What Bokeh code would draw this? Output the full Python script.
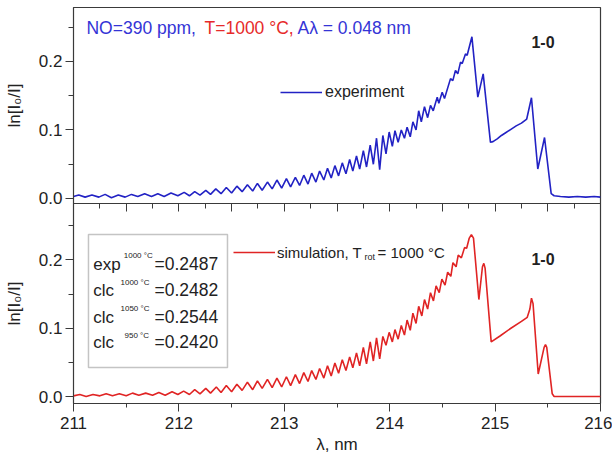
from bokeh.plotting import figure
from bokeh.models import (Range1d, FixedTicker, LinearAxis, NumeralTickFormatter,
                          Label, BoxAnnotation, Legend, LegendItem)
from bokeh.layouts import column
from bokeh.embed import file_html
from bokeh.resources import INLINE

# ---------------- data ----------------
exp_wl = [211.00, 211.05, 211.11, 211.175, 211.24, 211.30, 211.36, 211.425, 211.49, 211.55,
          211.61, 211.675, 211.74, 211.80, 211.86, 211.925, 211.99,
          212.05, 212.10, 212.15, 212.20, 212.255, 212.30, 212.35, 212.40, 212.45, 212.50,
          212.55, 212.60, 212.65, 212.70, 212.745, 212.79, 212.84, 212.885, 212.93, 212.975,
          213.02, 213.06, 213.105, 213.145, 213.185, 213.225, 213.26, 213.30, 213.335, 213.375,
          213.41, 213.445, 213.48, 213.515, 213.55, 213.585, 213.62, 213.65, 213.685, 213.715,
          213.75, 213.78, 213.815, 213.845, 213.875, 213.905, 213.935, 213.965, 213.995, 214.025,
          214.05, 214.08, 214.11, 214.14, 214.165, 214.195, 214.22, 214.25, 214.275, 214.30,
          214.33, 214.36, 214.387, 214.413, 214.451, 214.466, 214.498, 214.52, 214.577, 214.599,
          214.624, 214.646, 214.672, 214.688, 214.719, 214.735,
          214.78, 214.836, 214.887, 214.956, 214.98, 215.02, 215.06, 215.10, 215.15, 215.20,
          215.25, 215.30, 215.345, 215.405, 215.469, 215.532, 215.56, 215.62, 215.70, 215.78,
          215.86, 215.94, 216.00]
exp_val = [0.003, 0.005, 0.002, 0.005, 0.002, 0.006, 0.001, 0.005, 0.002, 0.006,
           0.003, 0.007, 0.003, 0.007, 0.003, 0.008, 0.004,
           0.009, 0.004, 0.010, 0.005, 0.012, 0.006, 0.014, 0.007, 0.016, 0.008,
           0.018, 0.010, 0.020, 0.011, 0.022, 0.012, 0.024, 0.014, 0.027, 0.015,
           0.029, 0.017, 0.031, 0.019, 0.034, 0.021, 0.037, 0.024, 0.040, 0.027,
           0.044, 0.030, 0.048, 0.033, 0.052, 0.036, 0.057, 0.040, 0.062, 0.043,
           0.070, 0.046, 0.078, 0.050, 0.088, 0.042, 0.092, 0.065, 0.097, 0.076,
           0.099, 0.082, 0.100, 0.088, 0.104, 0.090, 0.112, 0.100, 0.128, 0.112,
           0.134, 0.118, 0.136, 0.128, 0.148, 0.139, 0.155, 0.146, 0.175, 0.172,
           0.187, 0.182, 0.199, 0.197, 0.211, 0.209,
           0.236, 0.148, 0.182, 0.082, 0.083, 0.087, 0.092, 0.096, 0.101, 0.106,
           0.110, 0.116, 0.147, 0.043, 0.089, 0.007, 0.004, 0.003, 0.002, 0.003,
           0.002, 0.003, 0.002]

sim_wl = [211.00, 211.06, 211.12, 211.185, 211.25, 211.31, 211.37, 211.435, 211.50, 211.56,
          211.62, 211.685, 211.75, 211.81, 211.87, 211.935, 211.99,
          212.045, 212.10, 212.15, 212.20, 212.255, 212.30, 212.355, 212.40, 212.45, 212.50,
          212.55, 212.60, 212.65, 212.70, 212.745, 212.79, 212.84, 212.885, 212.93, 212.975,
          213.02, 213.06, 213.105, 213.145, 213.185, 213.225, 213.26, 213.30, 213.335, 213.375,
          213.41, 213.445, 213.48, 213.515, 213.55, 213.585, 213.62, 213.65, 213.685, 213.715,
          213.75, 213.78, 213.815, 213.845, 213.875, 213.905, 213.935, 213.965, 213.995, 214.025,
          214.05, 214.08, 214.11, 214.14, 214.165, 214.195, 214.22, 214.25, 214.275, 214.305,
          214.33, 214.36, 214.387, 214.415, 214.44, 214.47, 214.495, 214.525, 214.55, 214.58,
          214.60, 214.63, 214.65, 214.68, 214.71, 214.73,
          214.755, 214.775, 214.795, 214.846, 214.88, 214.893, 214.905, 214.963, 215.05, 215.15,
          215.25, 215.305, 215.33, 215.345, 215.36, 215.409, 215.465, 215.478, 215.49, 215.542,
          215.56, 215.70, 215.85, 216.00]
sim_val = [0.001, 0.003, 0.000, 0.003, 0.001, 0.004, 0.001, 0.004, 0.001, 0.005,
           0.002, 0.005, 0.002, 0.006, 0.002, 0.007, 0.003,
           0.008, 0.003, 0.010, 0.004, 0.012, 0.005, 0.014, 0.006, 0.016, 0.007,
           0.018, 0.009, 0.021, 0.010, 0.023, 0.012, 0.025, 0.013, 0.027, 0.014,
           0.029, 0.016, 0.032, 0.019, 0.035, 0.022, 0.038, 0.025, 0.041, 0.027,
           0.045, 0.030, 0.049, 0.034, 0.054, 0.038, 0.058, 0.042, 0.064, 0.045,
           0.072, 0.048, 0.080, 0.052, 0.086, 0.055, 0.088, 0.075, 0.094, 0.080,
           0.098, 0.084, 0.104, 0.090, 0.112, 0.097, 0.122, 0.107, 0.132, 0.118,
           0.142, 0.128, 0.152, 0.140, 0.162, 0.152, 0.172, 0.163, 0.182, 0.176,
           0.196, 0.190, 0.207, 0.203, 0.218, 0.217,
           0.232, 0.237, 0.232, 0.142, 0.190, 0.195, 0.188, 0.080, 0.089, 0.100,
           0.110, 0.116, 0.128, 0.144, 0.136, 0.033, 0.072, 0.076, 0.072, 0.004,
           0.000, 0.000, 0.000, 0.000]

x_major = [211, 212, 213, 214, 215, 216]
x_minor = [211.5, 212.5, 213.5, 214.5, 215.5]
top_x_major = [211, 211.5, 212, 212.5, 213, 213.5, 214, 214.5, 215, 215.5, 216]
top_x_minor = [211.25, 211.75, 212.25, 212.75, 213.25, 213.75, 214.25, 214.75, 215.25, 215.75]
y_major = [0.0, 0.1, 0.2]
y_minor = [0.05, 0.15, 0.25]

ratios = ["exp", "clc", "clc", "clc"]
ratio_temps = ["1000 °C", "1000 °C", "1050 °C", "950 °C"]
ratio_values = ["=0.2487", "=0.2482", "=0.2544", "=0.2420"]

# ---------------- style ----------------
FONT = "Liberation Sans"
BLUE = "#2222c4"
BLUE_T = "#3434d6"
RED = "#e02424"
RED_T = "#e62a2a"
DARK = "#222222"
FRAME = "#3a3a3a"

x_range = Range1d(211, 216)


def style_fig(p):
    p.xgrid.visible = False
    p.ygrid.visible = False
    p.outline_line_color = FRAME
    p.outline_line_width = 1.2
    p.background_fill_color = "white"
    ax = p.yaxis[0]
    ax.ticker = FixedTicker(ticks=y_major, minor_ticks=y_minor)
    ax.formatter = NumeralTickFormatter(format="0.0")
    ax.major_tick_out = 8
    ax.major_tick_in = 0
    ax.minor_tick_out = 5
    ax.minor_tick_in = 0
    ax.major_tick_line_color = FRAME
    ax.minor_tick_line_color = FRAME
    ax.axis_line_color = FRAME
    ax.major_label_text_font = FONT
    ax.major_label_text_font_size = "17px"
    ax.major_label_text_color = DARK
    ax.major_label_standoff = 3
    ax.axis_label = "ln[I₀/I]"
    ax.axis_label_text_font = FONT
    ax.axis_label_text_font_size = "17px"
    ax.axis_label_text_font_style = "normal"
    ax.axis_label_text_color = DARK
    ax.axis_label_standoff = 12


# ---------- top panel (experiment) ----------
p1 = figure(frame_width=527, frame_height=196, x_range=x_range,
            y_range=Range1d(-0.0073, 0.2788), x_axis_location=None,
            output_backend="svg", toolbar_location=None,
            min_border_left=73, min_border_right=12, min_border_top=7, min_border_bottom=8)
style_fig(p1)
p1.border_fill_color = "white"
r_exp = p1.line(exp_wl, exp_val, line_color=BLUE, line_width=1.6)

leg1 = Legend(items=[LegendItem(label="experiment", renderers=[r_exp])],
              location=(207, 101), glyph_width=42, glyph_height=20, label_standoff=3,
              padding=0, margin=0, spacing=0, border_line_alpha=0, background_fill_alpha=0,
              label_text_font=FONT, label_text_font_size="16px", label_text_color=DARK)
p1.add_layout(leg1)

tfs = "17.5px"
p1.add_layout(Label(x=211.123, y=0.2346, text="NO=390 ppm,", text_color=BLUE_T,
                    text_font=FONT, text_font_size=tfs))
p1.add_layout(Label(x=212.243, y=0.2346, text="T=1000 °C,", text_color=RED_T,
                    text_font=FONT, text_font_size=tfs))
p1.add_layout(Label(x=213.125, y=0.2346, text="Aλ = 0.048 nm", text_color=BLUE_T,
                    text_font=FONT, text_font_size=tfs))
p1.add_layout(Label(x=215.345, y=0.219, text="1-0", text_color=DARK, text_font=FONT,
                    text_font_size="16px", text_font_style="bold"))

# ---------- bottom panel (simulation) ----------
p2 = figure(frame_width=527, frame_height=200, x_range=x_range,
            y_range=Range1d(-0.0102, 0.2826), x_axis_location="below",
            output_backend="svg", toolbar_location=None,
            min_border_left=73, min_border_right=12, min_border_top=0, min_border_bottom=0)
style_fig(p2)
p2.border_fill_color = None
p2.margin = (-8, 0, 0, 0)
xa = p2.xaxis[0]
xa.ticker = FixedTicker(ticks=x_major, minor_ticks=x_minor)
xa.major_tick_out = 8
xa.major_tick_in = 0
xa.minor_tick_out = 4
xa.minor_tick_in = 0
xa.major_tick_line_color = FRAME
xa.minor_tick_line_color = FRAME
xa.axis_line_color = FRAME
xa.major_label_text_font = FONT
xa.major_label_text_font_size = "17px"
xa.major_label_text_color = DARK
xa.major_label_standoff = 5
xa.axis_label = "λ, nm"
xa.axis_label_text_font = FONT
xa.axis_label_text_font_size = "17px"
xa.axis_label_text_font_style = "normal"
xa.axis_label_text_color = DARK
xa.axis_label_standoff = 3

top_ax = LinearAxis(ticker=FixedTicker(ticks=top_x_major, minor_ticks=top_x_minor),
                    major_tick_in=8, major_tick_out=0, minor_tick_in=5, minor_tick_out=0,
                    major_label_overrides={t: "" for t in top_x_major},
                    major_label_text_font_size="1px", major_label_standoff=0,
                    major_tick_line_color=FRAME, minor_tick_line_color=FRAME,
                    axis_line_color=FRAME)
p2.add_layout(top_ax, "above")

r_sim = p2.line(sim_wl, sim_val, line_color=RED, line_width=1.6)

leg2 = Legend(items=[LegendItem(label="simulation, T", renderers=[r_sim])],
              location=(160, 141), glyph_width=42, glyph_height=20, label_standoff=2,
              padding=0, margin=0, spacing=0, border_line_alpha=0, background_fill_alpha=0,
              label_text_font=FONT, label_text_font_size="15px", label_text_color=DARK)
p2.add_layout(leg2)
p2.add_layout(Label(x=213.762, y=0.2045, text="rot", text_baseline="middle", text_color=DARK,
                    text_font=FONT, text_font_size="9px"))
p2.add_layout(Label(x=213.885, y=0.2108, text="= 1000 °C", text_baseline="middle",
                    text_color=DARK, text_font=FONT, text_font_size="15px"))
p2.add_layout(Label(x=215.345, y=0.193, text="1-0", text_color=DARK, text_font=FONT,
                    text_font_size="16px", text_font_style="bold"))

box = BoxAnnotation(left=211.142, right=212.461, bottom=0.0425, top=0.2372,
                    fill_color="white", fill_alpha=1.0, line_color=FRAME, line_width=1.5,
                    level="overlay")
p2.add_layout(box)

row_base = [0.1796, 0.1416, 0.1025, 0.0649]
sup_base = [0.2006, 0.161, 0.122, 0.083]
sup_x = [211.477, 211.446, 211.446, 211.484]
for name, temp, val, yb, ys, xs in zip(ratios, ratio_temps, ratio_values, row_base, sup_base, sup_x):
    p2.add_layout(Label(x=211.187, y=yb, text=name, text_color=DARK, text_font=FONT,
                        text_font_size="17px", level="overlay"))
    p2.add_layout(Label(x=xs, y=ys, text=temp, text_color=DARK, text_font=FONT,
                        text_font_size="8px", level="overlay"))
    p2.add_layout(Label(x=211.768, y=yb, text=val, text_color=DARK, text_font=FONT,
                        text_font_size="17.5px", level="overlay"))

layout = column(p1, p2, spacing=0)
open("out.html", "w").write(file_html(layout, INLINE))
